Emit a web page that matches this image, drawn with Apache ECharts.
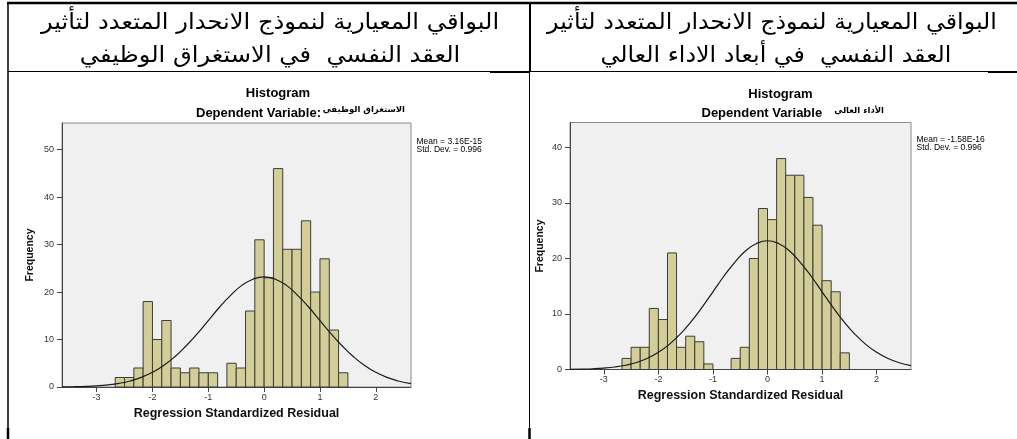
<!DOCTYPE html>
<html>
<head>
<meta charset="utf-8">
<script src="https://cdn.jsdelivr.net/npm/echarts@6/dist/echarts.min.js"></script>
<style>
html,body{margin:0;padding:0;background:#fff;}
#chart{width:1017px;height:439px;}
</style>
</head>
<body>
<div id="chart"></div>
<script>
// ---- data ----
const headerLeft = ['البواقي المعيارية لنموذج الانحدار المتعدد لتأثير', 'العقد النفسي  في الاستغراق الوظيفي'];
const headerRight = ['البواقي المعيارية لنموذج الانحدار المتعدد لتأثير', 'العقد النفسي  في أبعاد الاداء العالي'];
const chartTitle = 'Histogram';
const depLabelLeft = 'Dependent Variable:';
const depLabelRight = 'Dependent Variable';
const depVarLeft = 'الاستغراق الوظيفي';
const depVarRight = 'الأداء العالي';
const xAxisName = 'Regression Standardized Residual';
const yAxisName = 'Frequency';
const statsLeft = ['Mean = 3.16E-15', 'Std. Dev. = 0.996'];
const statsRight = ['Mean = -1.58E-16', 'Std. Dev. = 0.996'];

// bin edges (width 1/6)
const binEdges = [-2.667, -2.5, -2.333, -2.167, -2, -1.833, -1.667, -1.5, -1.333, -1.167, -1, -0.833, -0.667,
  -0.5, -0.333, -0.167, 0, 0.167, 0.333, 0.5, 0.667, 0.833, 1, 1.167, 1.333, 1.5];
const countsLeft = [2, 2, 4, 18, 10, 14, 4, 3, 4, 3, 3, 0, 5, 4, 16, 31, 23, 46, 29, 29, 35, 20, 27, 12, 3];
const countsRight = [2, 4, 4, 11, 9, 21, 4, 6, 5, 1, 0, 0, 2, 4, 20, 29, 27, 38, 35, 35, 31, 26, 16, 14, 3];

// normal curve
const curveX = [-3.62, -3.4, -3.2, -3.0, -2.8, -2.6, -2.4, -2.2, -2.0, -1.8, -1.6, -1.4, -1.2, -1.0, -0.8, -0.6, -0.4, -0.2,
  0, 0.2, 0.4, 0.6, 0.8, 1.0, 1.2, 1.4, 1.6, 1.8, 2.0, 2.2, 2.4, 2.63];
const curveLeft = [0.03, 0.07, 0.13, 0.25, 0.45, 0.77, 1.27, 2.02, 3.09, 4.53, 6.38, 8.63, 11.2, 14.0, 16.8, 19.3, 21.4, 22.7,
  23.2, 22.7, 21.4, 19.3, 16.8, 14.0, 11.2, 8.63, 6.38, 4.53, 3.09, 2.02, 1.27, 0.71];
const curveRight = [0.03, 0.07, 0.13, 0.25, 0.45, 0.77, 1.27, 2.02, 3.09, 4.53, 6.38, 8.63, 11.2, 14.0, 16.8, 19.3, 21.4, 22.7,
  23.2, 22.7, 21.4, 19.3, 16.8, 14.0, 11.2, 8.63, 6.38, 4.53, 3.09, 2.02, 1.27, 0.71];

const xTicks = [-3, -2, -1, 0, 1, 2];
const yTicksLeft = [0, 10, 20, 30, 40, 50];
const yTicksRight = [0, 10, 20, 30, 40];

// ---- chart ----
const LAT = '"Liberation Sans", Arial, sans-serif';
const AR = '"DejaVu Sans", sans-serif';
const chart = echarts.init(document.getElementById('chart'), null, {renderer: 'canvas'});

function binData(counts) {
  return counts.map((c, i) => [binEdges[i], binEdges[i + 1], c]);
}
function renderBar(params, api) {
  const v = api.value(2);
  if (!v) return null;
  const p0 = api.coord([api.value(0), v]);
  const p1 = api.coord([api.value(1), 0]);
  return {
    type: 'rect',
    shape: {x: p0[0], y: p0[1], width: p1[0] - p0[0], height: p1[1] - p0[1]},
    style: {fill: '#d3ce97', stroke: '#3c3c3c', lineWidth: 1}
  };
}
function xAx(gi, gap) {
  return {
    type: 'value', gridIndex: gi, min: -3.62, max: 2.63,
    name: xAxisName, nameLocation: 'middle', nameGap: gap,
    nameTextStyle: {fontFamily: LAT, fontWeight: 'bold', fontSize: 12.5, color: '#111'},
    axisLine: {show: true, onZero: false, lineStyle: {color: '#444', width: 1}},
    axisTick: {show: true, length: 5, customValues: xTicks, lineStyle: {color: '#444'}},
    axisLabel: {customValues: xTicks, margin: 6, fontFamily: LAT, fontSize: 9, color: '#333'},
    splitLine: {show: false}
  };
}
function yAx(gi, max, ticks, gap) {
  return {
    type: 'value', gridIndex: gi, min: 0, max: max,
    name: yAxisName, nameLocation: 'middle', nameGap: gap, nameRotate: 90,
    nameTextStyle: {fontFamily: LAT, fontWeight: 'bold', fontSize: 10.5, color: '#111'},
    axisLine: {show: true, onZero: false, lineStyle: {color: '#444', width: 1}},
    axisTick: {show: true, length: 5, customValues: ticks, lineStyle: {color: '#444'}},
    axisLabel: {customValues: ticks, margin: 8, fontFamily: LAT, fontSize: 9, color: '#333'},
    splitLine: {show: false}
  };
}
function txt(x, y, text, font, align, extra) {
  return Object.assign({
    type: 'text', x: x, y: y, silent: true,
    style: {text: text, font: font, fill: '#000', align: align || 'center', verticalAlign: 'middle'}
  }, extra || {});
}
function line(x1, y1, x2, y2, w) {
  return {type: 'line', silent: true, shape: {x1: x1, y1: y1, x2: x2, y2: y2}, style: {stroke: '#000', lineWidth: w}};
}

const graphics = [
  // table lines
  line(7, 3, 1017, 3, 2.5),
  line(8, 2, 8, 439, 1.5),
  line(530, 2, 530, 72, 2),
  line(529.5, 72, 529.5, 439, 1),
  line(8, 71.5, 1017, 71.5, 1.2),
  line(490, 72, 530, 72, 2),
  line(988, 72, 1017, 72, 2),
  line(8, 428, 8, 439, 2.5),
  line(529.5, 428, 529.5, 439, 2.5),
  // header texts
  txt(270, 23.5, headerLeft[0], '22px ' + AR, 'center', {scaleX: 1.1}),
  txt(270, 56, headerLeft[1], '22px ' + AR, 'center', {scaleX: 1.1}),
  txt(772, 23.5, headerRight[0], '22px ' + AR, 'center', {scaleX: 1.08}),
  txt(776, 56, headerRight[1], '22px ' + AR, 'center', {scaleX: 1.08}),
  // left chart titles
  txt(278, 93, chartTitle, 'bold 13px ' + LAT),
  txt(196, 113.5, depLabelLeft, 'bold 13px ' + LAT, 'left'),
  txt(405, 109.5, depVarLeft, 'bold 8.5px ' + AR, 'right'),
  txt(416.5, 141.5, statsLeft[0], '8.5px ' + LAT, 'left'),
  txt(416.5, 149.3, statsLeft[1], '8.5px ' + LAT, 'left'),
  // right chart titles
  txt(780.5, 94, chartTitle, 'bold 13px ' + LAT),
  txt(701.5, 113.5, depLabelRight, 'bold 13px ' + LAT, 'left'),
  txt(884, 110.5, depVarRight, 'bold 8.5px ' + AR, 'right'),
  txt(916.5, 140, statsRight[0], '8.5px ' + LAT, 'left'),
  txt(916.5, 147.5, statsRight[1], '8.5px ' + LAT, 'left')
];

chart.setOption({
  animation: false,
  backgroundColor: '#fff',
  grid: [
    {left: 62, top: 123, width: 349, height: 264, show: true, backgroundColor: '#f0f0f0', borderColor: '#8a8a8a', borderWidth: 1},
    {left: 570, top: 122.5, width: 341, height: 247, show: true, backgroundColor: '#f0f0f0', borderColor: '#8a8a8a', borderWidth: 1}
  ],
  xAxis: [xAx(0, 19), xAx(1, 18)],
  yAxis: [yAx(0, 55.6, yTicksLeft, 26), yAx(1, 44.5, yTicksRight, 24)],
  series: [
    {type: 'custom', xAxisIndex: 0, yAxisIndex: 0, renderItem: renderBar, encode: {x: [0, 1], y: 2}, data: binData(countsLeft), z: 2},
    {type: 'line', xAxisIndex: 0, yAxisIndex: 0, data: curveX.map((x, i) => [x, curveLeft[i]]), smooth: true,
      showSymbol: false, lineStyle: {color: '#1a1a1a', width: 1.2}, z: 3},
    {type: 'custom', xAxisIndex: 1, yAxisIndex: 1, renderItem: renderBar, encode: {x: [0, 1], y: 2}, data: binData(countsRight), z: 2},
    {type: 'line', xAxisIndex: 1, yAxisIndex: 1, data: curveX.map((x, i) => [x, curveRight[i]]), smooth: true,
      showSymbol: false, lineStyle: {color: '#1a1a1a', width: 1.2}, z: 3}
  ],
  graphic: graphics
});
</script>
</body>
</html>
